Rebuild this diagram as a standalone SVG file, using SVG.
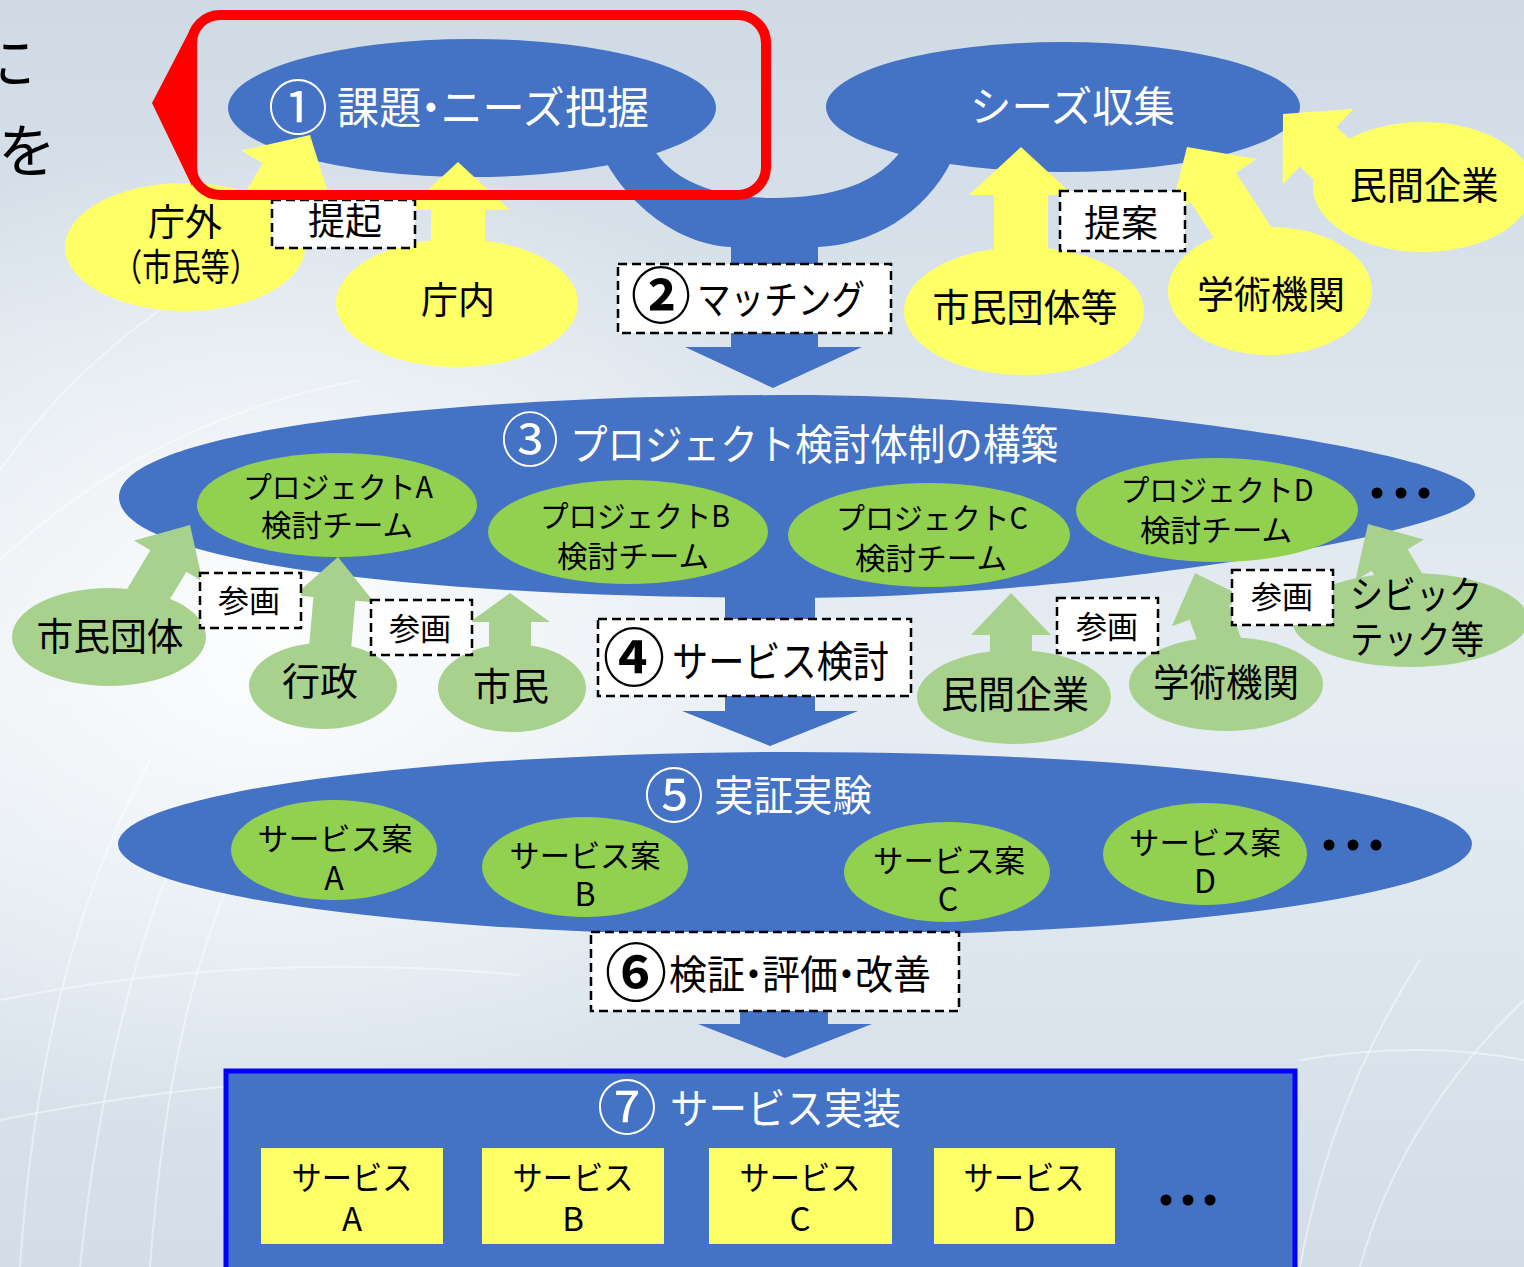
<svg xmlns="http://www.w3.org/2000/svg" width="1524" height="1267" viewBox="0 0 1524 1267">
<defs>
<linearGradient id="bg" x1="0" y1="0" x2="0" y2="1">
<stop offset="0" stop-color="#cfdae5"/>
<stop offset="0.4" stop-color="#e0e8ef"/>
<stop offset="0.55" stop-color="#e6edf3"/>
<stop offset="1" stop-color="#d2dde8"/>
</linearGradient>
<radialGradient id="glow" cx="0.18" cy="0.5" r="0.4">
<stop offset="0" stop-color="#ffffff" stop-opacity="0.9"/>
<stop offset="1" stop-color="#ffffff" stop-opacity="0"/>
</radialGradient>
<polygon id="ya" points="0,0 52,48 27,48 27,130 -27,130 -27,48 -52,48"/>
<polygon id="ga" points="0,0 40,42 21,42 21,100 -21,100 -21,42 -40,42"/>
</defs>
<style>
text{font-family:"Noto Sans CJK JP","Noto Sans",sans-serif}
.w{fill:#ffffff}
.k{fill:#000000}
.c{text-anchor:middle}
.b{font-weight:bold}
.blue{fill:#4472c4}
.yel{fill:#ffff66}
.grn{fill:#92d050}
.lg{fill:#a9d18e}
.box{fill:#ffffff;stroke:#000000;stroke-width:2.5;stroke-dasharray:9 5}
.bgl{fill:none;stroke:#ffffff;stroke-opacity:0.45;stroke-width:2}
.dot{fill:#000000}
</style>

<g id="background">
<rect x="0" y="0" width="1524" height="1267" fill="url(#bg)"/>
<rect x="0" y="0" width="1524" height="1267" fill="url(#glow)"/>
<path class="bgl" d="M20,1267 Q40,960 150,760"/>
<path class="bgl" d="M80,1267 Q110,980 200,800"/>
<path class="bgl" d="M150,1267 Q170,1000 240,860"/>
<path class="bgl" d="M0,1120 Q300,1060 560,1085"/>
<path class="bgl" d="M0,1000 Q250,950 520,975"/>
<path class="bgl" d="M1300,1267 Q1330,1100 1420,960"/>
<path class="bgl" d="M1360,1267 Q1400,1120 1524,1000"/>
<path class="bgl" d="M1300,1060 Q1420,1040 1524,1060"/>
<path class="bgl" d="M0,470 Q120,300 330,220"/>
<path class="bgl" d="M0,560 Q150,420 360,380"/>
<text x="-23" y="84" font-size="58" class="k">に</text>
<text x="-2" y="172" font-size="58" class="k">を</text>
</g>

<g id="node-1">
<ellipse cx="472" cy="108" rx="244" ry="69" class="blue"/>
<text x="298" y="130" font-size="60" class="w c">①</text>
<text x="337" y="124" font-size="44" class="w" textLength="312" lengthAdjust="spacingAndGlyphs">課題<tspan dx="-12">・</tspan><tspan dx="-12">ニーズ把握</tspan></text>
</g>
<g id="node-seeds">
<ellipse cx="1063" cy="107" rx="237" ry="65" class="blue"/>
<text x="970" y="122" font-size="42" class="w" textLength="205" lengthAdjust="spacingAndGlyphs">シーズ収集</text>
</g>
<g id="node-3">
<path class="blue" d="M119,497 C119,430 450,395 800,395 C1050,395 1475,450 1475,495 C1472,532 1080,598 790,598 C440,598 119,565 119,497 Z"/>
<text x="530" y="461" font-size="58" class="w c">③</text>
<text x="570" y="460" font-size="42" class="w" textLength="488" lengthAdjust="spacingAndGlyphs">プロジェクト検討体制の構築</text>
<circle cx="1377" cy="493" r="5.5" class="dot"/>
<circle cx="1401" cy="493" r="5.5" class="dot"/>
<circle cx="1424" cy="493" r="5.5" class="dot"/>
</g>
<g id="node-5">
<ellipse cx="795" cy="844" rx="677" ry="92" class="blue"/>
<text x="674" y="818" font-size="60" class="w c">⑤</text>
<text x="714" y="811" font-size="42" class="w" textLength="158" lengthAdjust="spacingAndGlyphs">実証実験</text>
<circle cx="1329" cy="845" r="5.5" class="dot"/>
<circle cx="1353" cy="845" r="5.5" class="dot"/>
<circle cx="1376" cy="845" r="5.5" class="dot"/>
</g>
<g id="node-7">
<rect x="226" y="1071" width="1069" height="215" fill="#4472c4" stroke="#0000ff" stroke-width="5"/>
<text x="627" y="1130" font-size="60" class="w c">⑦</text>
<text x="670" y="1124" font-size="42" class="w" textLength="231" lengthAdjust="spacingAndGlyphs">サービス実装</text>
<circle cx="1166" cy="1200" r="5.5" class="dot"/>
<circle cx="1188" cy="1200" r="5.5" class="dot"/>
<circle cx="1210" cy="1200" r="5.5" class="dot"/>
</g>

<g id="connectors">
<path class="blue" d="M600,150 C625,205 680,245 731,247 L731,347 L685,347 L773,388 L862,347 L818,347 L818,247 C870,245 925,215 952,160 L940,140 L905,145 C880,185 830,198 773,198 C715,198 675,180 657,154 L640,140 Z"/>
<path class="blue" d="M725,588 L725,711 L682,711 L770,746 L858,711 L815,711 L815,588 Z"/>
<path class="blue" d="M740,930 L740,1024 L698,1024 L785,1058 L872,1024 L828,1024 L828,930 Z"/>
<use href="#ya" class="yel" transform="translate(310,135) rotate(30)"/>
<use href="#ya" class="yel" transform="translate(458,162)"/>
<use href="#ya" class="yel" transform="translate(1021,147)"/>
<use href="#ya" class="yel" transform="translate(1187,147) rotate(-33)"/>
<use href="#ya" class="yel" transform="translate(1283,114) rotate(-47)"/>
<use href="#ga" class="lg" transform="translate(190,525) rotate(31)"/>
<use href="#ga" class="lg" transform="translate(338,557) rotate(5)"/>
<polygon class="lg" points="510,593 550,622 531,622 531,670 489,670 489,622 470,622"/>
<use href="#ga" class="lg" transform="translate(1011,593)"/>
<use href="#ga" class="lg" transform="translate(1195,573) rotate(-20)"/>
<use href="#ga" class="lg" transform="translate(1368,524) rotate(-31)"/>
</g>

<g id="node-chogai">
<ellipse cx="185" cy="247" rx="120" ry="64" class="yel"/>
<text x="185" y="236" font-size="37" class="k c">庁外</text>
<text x="186" y="281" font-size="37" class="k c" textLength="146" lengthAdjust="spacingAndGlyphs">（市民等）</text>
</g>
<g id="node-chonai">
<ellipse cx="457" cy="303" rx="121" ry="64" class="yel"/>
<text x="458" y="314" font-size="37" class="k c">庁内</text>
</g>
<g id="node-shimindantaito">
<ellipse cx="1024" cy="311" rx="120" ry="64" class="yel"/>
<text x="1025" y="321" font-size="38" class="k c" textLength="185" lengthAdjust="spacingAndGlyphs">市民団体等</text>
</g>
<g id="node-gakujutsu-y">
<ellipse cx="1270" cy="291" rx="102" ry="64" class="yel"/>
<text x="1271" y="308" font-size="38" class="k c" textLength="148" lengthAdjust="spacingAndGlyphs">学術機関</text>
</g>
<g id="node-minkan-y">
<ellipse cx="1423" cy="187" rx="110" ry="65" class="yel"/>
<text x="1424" y="199" font-size="38" class="k c" textLength="149" lengthAdjust="spacingAndGlyphs">民間企業</text>
</g>

<g id="node-projA">
<ellipse cx="337" cy="505" rx="140" ry="52" class="grn"/>
<text x="338" y="498" font-size="30" class="k c" textLength="190" lengthAdjust="spacingAndGlyphs">プロジェクトA</text>
<text x="337" y="536" font-size="30" class="k c" textLength="152" lengthAdjust="spacingAndGlyphs">検討チーム</text>
</g>
<g id="node-projB">
<ellipse cx="628" cy="532" rx="140" ry="52" class="grn"/>
<text x="635" y="527" font-size="30" class="k c" textLength="190" lengthAdjust="spacingAndGlyphs">プロジェクトB</text>
<text x="633" y="567" font-size="30" class="k c" textLength="152" lengthAdjust="spacingAndGlyphs">検討チーム</text>
</g>
<g id="node-projC">
<ellipse cx="929" cy="535" rx="141" ry="52" class="grn"/>
<text x="932" y="529" font-size="30" class="k c" textLength="192" lengthAdjust="spacingAndGlyphs">プロジェクトC</text>
<text x="931" y="569" font-size="30" class="k c" textLength="152" lengthAdjust="spacingAndGlyphs">検討チーム</text>
</g>
<g id="node-projD">
<ellipse cx="1217" cy="510" rx="141" ry="52" class="grn"/>
<text x="1217" y="501" font-size="30" class="k c" textLength="193" lengthAdjust="spacingAndGlyphs">プロジェクトD</text>
<text x="1216" y="541" font-size="30" class="k c" textLength="152" lengthAdjust="spacingAndGlyphs">検討チーム</text>
</g>

<g id="node-shimindantai">
<ellipse cx="109" cy="637" rx="97" ry="49" class="lg"/>
<text x="110" y="650" font-size="38" class="k c" textLength="147" lengthAdjust="spacingAndGlyphs">市民団体</text>
</g>
<g id="node-gyosei">
<ellipse cx="323" cy="686" rx="74" ry="43" class="lg"/>
<text x="320" y="695" font-size="38" class="k c">行政</text>
</g>
<g id="node-shimin">
<ellipse cx="512" cy="688" rx="74" ry="44" class="lg"/>
<text x="511" y="700" font-size="38" class="k c">市民</text>
</g>
<g id="node-minkan-g">
<ellipse cx="1014" cy="697" rx="97" ry="47" class="lg"/>
<text x="1015" y="708" font-size="38" class="k c" textLength="148" lengthAdjust="spacingAndGlyphs">民間企業</text>
</g>
<g id="node-gakujutsu-g">
<ellipse cx="1226" cy="684" rx="97" ry="47" class="lg"/>
<text x="1226" y="696" font-size="38" class="k c" textLength="146" lengthAdjust="spacingAndGlyphs">学術機関</text>
</g>
<g id="node-civictech">
<ellipse cx="1410" cy="620" rx="118" ry="47" class="lg"/>
<text x="1350" y="608" font-size="38" class="k" textLength="132" lengthAdjust="spacingAndGlyphs">シビック</text>
<text x="1350" y="653" font-size="38" class="k" textLength="134" lengthAdjust="spacingAndGlyphs">テック等</text>
</g>

<g id="node-svcplanA">
<ellipse cx="334" cy="850" rx="103" ry="50" class="grn"/>
<text x="335" y="850" font-size="31" class="k c" textLength="155" lengthAdjust="spacingAndGlyphs">サービス案</text>
<text x="334" y="890" font-size="32" class="k c">A</text>
</g>
<g id="node-svcplanB">
<ellipse cx="585" cy="867" rx="103" ry="50" class="grn"/>
<text x="585" y="867" font-size="31" class="k c" textLength="151" lengthAdjust="spacingAndGlyphs">サービス案</text>
<text x="585" y="906" font-size="32" class="k c">B</text>
</g>
<g id="node-svcplanC">
<ellipse cx="947" cy="872" rx="103" ry="50" class="grn"/>
<text x="949" y="872" font-size="31" class="k c" textLength="152" lengthAdjust="spacingAndGlyphs">サービス案</text>
<text x="948" y="911" font-size="32" class="k c">C</text>
</g>
<g id="node-svcplanD">
<ellipse cx="1205" cy="854" rx="102" ry="51" class="grn"/>
<text x="1205" y="854" font-size="31" class="k c" textLength="152" lengthAdjust="spacingAndGlyphs">サービス案</text>
<text x="1205" y="893" font-size="32" class="k c">D</text>
</g>

<g id="node-svcA">
<rect x="261" y="1148" width="182" height="96" class="yel"/>
<text x="352" y="1190" font-size="33" class="k c" textLength="121" lengthAdjust="spacingAndGlyphs">サービス</text>
<text x="352" y="1231" font-size="33" class="k c">A</text>
</g>
<g id="node-svcB">
<rect x="482" y="1148" width="182" height="96" class="yel"/>
<text x="573" y="1190" font-size="33" class="k c" textLength="121" lengthAdjust="spacingAndGlyphs">サービス</text>
<text x="573" y="1231" font-size="33" class="k c">B</text>
</g>
<g id="node-svcC">
<rect x="709" y="1148" width="183" height="96" class="yel"/>
<text x="800" y="1190" font-size="33" class="k c" textLength="121" lengthAdjust="spacingAndGlyphs">サービス</text>
<text x="800" y="1231" font-size="33" class="k c">C</text>
</g>
<g id="node-svcD">
<rect x="934" y="1148" width="181" height="96" class="yel"/>
<text x="1024" y="1190" font-size="33" class="k c" textLength="121" lengthAdjust="spacingAndGlyphs">サービス</text>
<text x="1024" y="1231" font-size="33" class="k c">D</text>
</g>

<g id="labels">
<g id="label-teiki">
<rect x="272" y="200" width="143" height="48" class="box"/>
<text x="345" y="235" font-size="37" class="k c">提起</text>
</g>
<g id="label-teian">
<rect x="1060" y="191" width="125" height="60" class="box"/>
<text x="1121" y="237" font-size="37" class="k c">提案</text>
</g>
<g id="node-2">
<rect x="618" y="264" width="273" height="69" class="box"/>
<text x="661" y="318" font-size="60" class="k c b">②</text>
<text x="697" y="314" font-size="40" class="k" textLength="168" lengthAdjust="spacingAndGlyphs">マッチング</text>
</g>
<g id="label-sankaku1">
<rect x="200" y="573" width="101" height="55" class="box"/>
<text x="249" y="612" font-size="31" class="k c">参画</text>
</g>
<g id="label-sankaku2">
<rect x="371" y="600" width="101" height="55" class="box"/>
<text x="420" y="640" font-size="31" class="k c">参画</text>
</g>
<g id="label-sankaku3">
<rect x="1057" y="598" width="101" height="55" class="box"/>
<text x="1107" y="638" font-size="31" class="k c">参画</text>
</g>
<g id="label-sankaku4">
<rect x="1232" y="570" width="101" height="55" class="box"/>
<text x="1282" y="608" font-size="31" class="k c">参画</text>
</g>
<g id="node-4">
<rect x="598" y="619" width="313" height="77" class="box"/>
<text x="634" y="681" font-size="62" class="k c b">④</text>
<text x="672" y="677" font-size="42" class="k" textLength="217" lengthAdjust="spacingAndGlyphs">サービス検討</text>
</g>
<g id="node-6">
<rect x="591" y="932" width="368" height="79" class="box"/>
<text x="636" y="996" font-size="62" class="k c b">⑥</text>
<text x="669" y="989" font-size="40" class="k" textLength="262" lengthAdjust="spacingAndGlyphs">検証<tspan dx="-11">・</tspan><tspan dx="-11">評価</tspan><tspan dx="-11">・</tspan><tspan dx="-11">改善</tspan></text>
</g>
</g>

<g id="highlight">
<polygon points="192,26 152,103 192,186" fill="#ff0000"/>
<rect x="192" y="15" width="574" height="180" rx="28" ry="28" fill="none" stroke="#ff0000" stroke-width="10"/>
</g>
</svg>
